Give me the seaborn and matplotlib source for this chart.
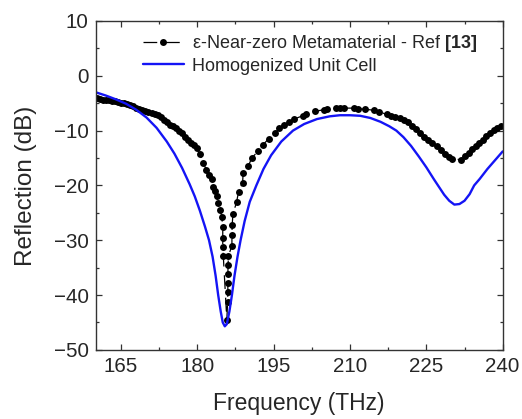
import matplotlib
matplotlib.use("Agg")
import matplotlib.pyplot as plt
from matplotlib.ticker import MultipleLocator
import seaborn as sns

# --- reference data (epsilon-near-zero metamaterial, Ref [13]) ---
ref_freq = [160.2, 160.8, 161.4, 162.0, 162.6, 163.2, 163.8, 164.4, 165.0, 165.6,
            166.2, 166.8, 167.4, 168.0, 168.6, 169.2, 169.8, 170.4, 171.0, 171.6,
            172.2, 172.8, 173.4, 174.0, 174.6, 175.2, 175.8, 176.4, 177.0, 177.5,
            178.2, 178.8, 179.4, 180.0, 180.5, 181.2, 181.8, 182.3, 182.8, 183.1,
            183.4, 183.8, 184.1, 184.5, 184.8, 185.0, 185.0, 185.0, 185.1,
            185.8, 185.95, 186.0, 186.0, 186.0, 186.05, 186.1,
            186.8, 186.8, 186.85, 187.0, 187.7, 188.1, 188.9, 189.0, 190.0,
            190.7, 191.9, 192.9, 194.0, 195.2, 196.1, 197.0, 198.1, 199.0,
            200.7, 201.4, 203.1, 204.8, 205.5, 207.2, 208.0, 208.8, 210.8,
            211.6, 212.9, 214.8, 215.6, 217.2, 218.1, 218.9, 219.8, 220.6,
            221.4, 222.2, 223.0, 223.8, 224.6, 225.4, 226.2, 227.0, 227.8,
            228.6, 229.4, 230.1, 231.9, 232.6, 233.3, 234.0, 234.7, 235.4,
            236.1, 236.8, 237.5, 238.2, 238.9, 239.6]
ref_db = [-4.1, -4.3, -4.4, -4.5, -4.5, -4.6, -4.6, -4.7, -4.9, -5.0,
          -5.2, -5.4, -5.6, -5.8, -6.0, -6.2, -6.4, -6.6, -6.8, -7.0,
          -7.2, -7.5, -8.0, -8.5, -8.9, -9.2, -9.6, -10.0, -10.5, -11.1,
          -11.7, -12.2, -12.7, -13.2, -14.3, -16.0, -17.2, -18.1, -18.8, -20.2,
          -21.0, -22.0, -23.2, -24.4, -25.7, -27.5, -29.6, -31.2, -32.8,
          -44.5, -41.3, -39.5, -37.8, -36.1, -34.6, -32.9,
          -31.0, -29.0, -27.2, -25.2, -23.1, -21.2, -19.5, -17.8, -16.5,
          -15.0, -13.8, -12.6, -11.5, -10.5, -9.6, -9.0, -8.5, -7.9,
          -7.3, -7.0, -6.5, -6.2, -6.1, -5.9, -5.9, -5.9, -5.9,
          -6.0, -6.1, -6.3, -6.6, -7.0, -7.3, -7.6, -7.7, -8.1,
          -8.5, -9.1, -9.8, -10.5, -11.1, -11.7, -12.2, -12.9, -13.6,
          -14.2, -14.8, -15.2, -15.3, -14.6, -14.0, -13.4, -12.8, -12.2,
          -11.7, -11.0, -10.5, -9.9, -9.5, -9.2]

# --- homogenized unit cell ---
hom_freq = [160.0, 162.0, 164.0, 166.0, 168.0, 170.0, 172.0, 174.0, 175.5, 177.0,
            178.5, 179.5, 180.5, 181.5, 182.3, 183.0, 183.6, 184.1, 184.6, 185.0,
            185.4, 185.8, 186.3, 186.8, 187.3, 187.9, 188.5, 189.3, 190.3, 191.6,
            193.0, 194.5, 196.5, 198.8, 201.0, 203.5, 206.0, 208.0, 210.0, 212.0,
            214.0, 216.0, 217.7, 219.1, 220.5, 222.0, 223.5, 225.0, 226.5, 227.5,
            228.5, 229.5, 230.5, 231.5, 232.5, 233.5, 234.4, 235.5, 237.0, 238.5,
            240.0]
hom_db = [-3.0, -3.6, -4.3, -5.1, -6.2, -7.6, -9.5, -12.0, -14.2, -16.8,
          -19.8, -22.0, -24.6, -27.5, -30.0, -33.0, -36.5, -40.0, -43.0, -45.0,
          -45.7, -45.3, -43.0, -40.0, -36.5, -33.0, -30.0, -26.5, -23.0, -20.0,
          -17.0, -14.5, -12.0, -10.0, -8.8, -7.9, -7.4, -7.2, -7.2, -7.3,
          -7.7, -8.4, -9.2, -10.0, -11.2, -12.8, -14.7, -16.7, -18.9, -20.3,
          -21.7, -22.8, -23.5, -23.4, -22.8, -21.6, -20.0, -18.8, -17.0, -15.4,
          -13.8]

sns.set_style("ticks")
plt.rcParams["font.family"] = ["Liberation Sans", "DejaVu Sans"]
plt.rcParams["mathtext.fontset"] = "custom"
plt.rcParams["mathtext.rm"] = "Liberation Sans"
plt.rcParams["mathtext.bf"] = "Liberation Sans:bold"

fig = plt.figure(figsize=(5.22, 4.19), dpi=100)
ax = fig.add_axes([0.183, 0.165, 0.780, 0.785])

sns.lineplot(x=ref_freq, y=ref_db, ax=ax, sort=False, estimator=None,
             color="black", lw=0.9, linestyle=(0, (11, 7)), marker="o",
             markersize=5.0, markeredgewidth=0,
             label="ε-Near-zero Metamaterial - Ref $\\mathbf{[13]}$")
sns.lineplot(x=hom_freq, y=hom_db, ax=ax, sort=False, estimator=None,
             color="#1414f5", lw=1.7, label="Homogenized Unit Cell")

ax.set_xlim(160, 240)
ax.set_ylim(-50, 10)
ax.xaxis.set_major_locator(MultipleLocator(15))
ax.xaxis.set_minor_locator(MultipleLocator(7.5))
ax.yaxis.set_major_locator(MultipleLocator(10))
ax.yaxis.set_minor_locator(MultipleLocator(5))
ax.set_xticks([165, 180, 195, 210, 225, 240])
ax.tick_params(which="both", direction="in", top=True, right=True,
               labelsize=14.8, width=0.9, color="#333333")
ax.tick_params(which="major", length=4.5, pad=5)
ax.tick_params(which="minor", length=2.5)
for s in ax.spines.values():
    s.set_linewidth(1.0)
    s.set_color("#333333")

ax.set_xlabel("Frequency (THz)", fontsize=16.5, labelpad=12)
ax.set_ylabel("Reflection (dB)", fontsize=17.5, labelpad=12)

ax.legend(loc="upper left", bbox_to_anchor=(0.098, 0.985), frameon=False,
          fontsize=13, handlelength=2.3, handletextpad=0.45,
          labelspacing=0.2, borderaxespad=0)

fig.savefig("out.png", dpi=100)
